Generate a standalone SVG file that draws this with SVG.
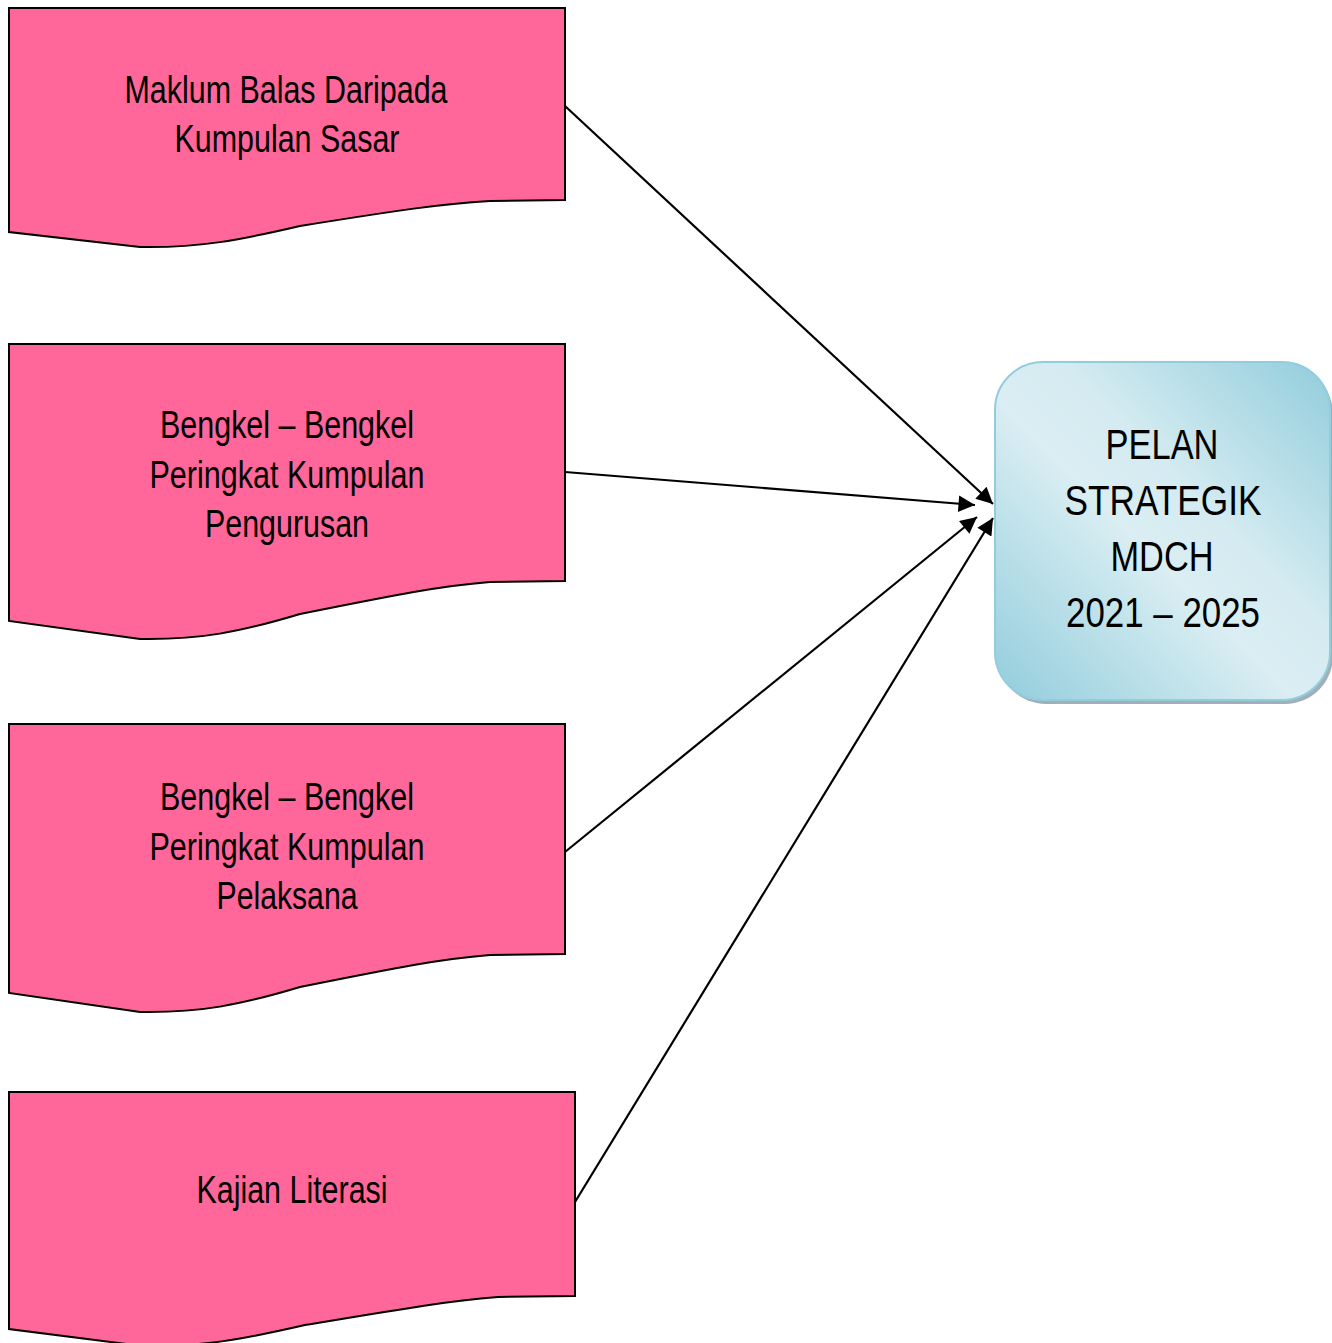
<svg xmlns="http://www.w3.org/2000/svg" width="1332" height="1343" viewBox="0 0 1332 1343">
<style>
.doc{fill:#FF6699;stroke:#000;stroke-width:2}
.t{font-family:"Liberation Sans",Arial,sans-serif;font-size:38px;fill:#000;text-anchor:middle}
.t2{font-family:"Liberation Sans",Arial,sans-serif;font-size:42px;fill:#000;text-anchor:middle}
.c{stroke:#000;stroke-width:2.2;fill:none;marker-end:url(#ah)}
</style>
<defs>
<marker id="ah" viewBox="0 0 10 10" refX="10" refY="5" markerWidth="9" markerHeight="7.5" markerUnits="strokeWidth" orient="auto">
<path d="M0,0 L10,5 L0,10 Z" fill="#000"/>
</marker>
<linearGradient id="bg" x1="0" y1="1" x2="1" y2="0">
<stop offset="0" stop-color="#92CDDC"/>
<stop offset="0.45" stop-color="#DAEEF3"/>
<stop offset="0.6" stop-color="#D4EBF1"/>
<stop offset="1" stop-color="#92CDDC"/>
</linearGradient>
</defs>
<rect width="1332" height="1343" fill="#fff"/>
<g id="n1">
<path class="doc" d="M9,8 H565 V200 L490,201 C440,204 400,210 300,226 C240,240 200,248 140,247 L9,232 Z"/>
<text class="t" x="286" y="103" textLength="323" lengthAdjust="spacingAndGlyphs">Maklum Balas Daripada</text>
<text class="t" x="287" y="152" textLength="225" lengthAdjust="spacingAndGlyphs">Kumpulan Sasar</text>
</g>
<g id="n2">
<path class="doc" d="M9,344 H565 V581 L490,582 C440,586 400,594 300,614 C240,632 200,640 140,639 L9,621 Z"/>
<text class="t" x="287" y="438" textLength="254" lengthAdjust="spacingAndGlyphs">Bengkel – Bengkel</text>
<text class="t" x="287" y="488" textLength="275" lengthAdjust="spacingAndGlyphs">Peringkat Kumpulan</text>
<text class="t" x="287" y="537" textLength="164" lengthAdjust="spacingAndGlyphs">Pengurusan</text>
</g>
<g id="n3">
<path class="doc" d="M9,724 H565 V954 L490,955 C440,959 400,967 300,987 C240,1005 200,1013 140,1012 L9,993 Z"/>
<text class="t" x="287" y="810" textLength="254" lengthAdjust="spacingAndGlyphs">Bengkel – Bengkel</text>
<text class="t" x="287" y="860" textLength="275" lengthAdjust="spacingAndGlyphs">Peringkat Kumpulan</text>
<text class="t" x="287" y="909" textLength="141" lengthAdjust="spacingAndGlyphs">Pelaksana</text>
</g>
<g id="n4">
<path class="doc" d="M9,1092 H575 V1296 L498,1297 C448,1301 407,1308 305,1325 C244,1339 203,1347 142,1346 L9,1329 Z"/>
<text class="t" x="292" y="1203" textLength="191" lengthAdjust="spacingAndGlyphs">Kajian Literasi</text>
</g>
<g id="n5">
<rect x="998" y="366" width="335" height="338" rx="48" fill="#8A9BA6" opacity="0.8"/>
<rect x="995" y="362" width="335" height="338" rx="48" fill="url(#bg)" stroke="#93CDDD" stroke-width="2"/>
<text class="t2" x="1162" y="459" textLength="113" lengthAdjust="spacingAndGlyphs">PELAN</text>
<text class="t2" x="1163" y="515" textLength="197" lengthAdjust="spacingAndGlyphs">STRATEGIK</text>
<text class="t2" x="1162" y="571" textLength="103" lengthAdjust="spacingAndGlyphs">MDCH</text>
<text class="t2" x="1163" y="627" textLength="194" lengthAdjust="spacingAndGlyphs">2021 – 2025</text>
</g>
<g id="connectors">
<line class="c" x1="565" y1="106" x2="993" y2="504"/>
<line class="c" x1="565" y1="472" x2="975" y2="505"/>
<line class="c" x1="565" y1="852" x2="977" y2="517"/>
<line class="c" x1="575" y1="1202" x2="993" y2="518"/>
</g>
</svg>
